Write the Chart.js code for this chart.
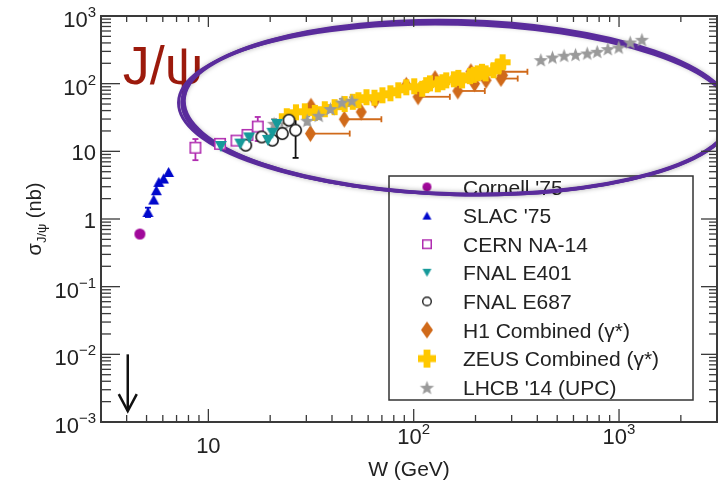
<!DOCTYPE html>
<html>
<head>
<meta charset="utf-8">
<script src="https://cdn.jsdelivr.net/npm/chart.js@4.4.1/dist/chart.umd.min.js"></script>
<style>
html, body { margin: 0; padding: 0; background: #fff; overflow: hidden; }
canvas { display: block; }
</style>
</head>
<body>
<canvas id="c" width="724" height="493"></canvas>
<script>
// ---- data (W in GeV, sigma in nb) ----
const cornellW = [4.64];
const cornellS = [0.60];

const slacW = [5.08, 5.42, 5.58, 5.74, 6.05, 6.40];
const slacS = [1.27, 1.94, 2.66, 3.53, 3.96, 4.96];
const slacErr = [0.2, 0, 0, 0, 0, 0];

const cernW = [8.65, 11.4, 13.7, 15.5, 17.4];
const cernS = [11.3, 12.9, 14.4, 17.5, 23.2];
const cernErr = [3.9, 1.5, 2, 3, 9];

const e401W = [11.5, 14.3, 15.8, 19.5, 20.5, 21.6];
const e401S = [11.8, 12.8, 15.8, 14.5, 18.5, 25];

const e687W = [15.2, 18.2, 20.5, 22.9, 24.7, 26.6];
const e687S = [12.3, 16.3, 14.6, 18.3, 28.8, 20.5];
const e687Err = [1.5, 2, 1.5, 2.5, 4, 12.5];

const h1W = [31.4, 31.6, 45.9, 55.5, 64.9, 92, 105, 127, 164, 190, 198, 225, 266, 271];
const h1S = [18.3, 46.4, 29.8, 38.2, 56.9, 94.7, 64, 119, 78, 150, 100, 112, 119, 133];
const h1WHigh = [48.8, null, 69.6, null, null, null, 150, null, 222, 358, null, null, 321, null];

const zeusW = [24.1, 26.7, 29.5, 33.0, 36.9, 41.2, 46.1, 50.5, 53.8, 58.9, 64.4, 70.4, 77.0, 84.1, 92.0,
               100.6, 110, 115, 120, 131, 138, 144, 157, 165, 172, 188, 196, 205, 215, 224, 245, 258, 271];
const zeusS = [33.0, 37.8, 39.1, 37.0, 41.9, 45, 50, 54, 56.9, 63.0, 62.0, 67.4, 72.1, 79.9, 88.5,
               91.5, 84, 95, 101, 98, 105, 112, 116, 122, 112, 129, 135, 142, 150, 142, 158, 180, 207];

const lhcbW = [20.9, 22.8, 30.3, 34.5, 39.3, 44.7, 50.0, 416, 474, 540, 614, 700, 783, 882, 997, 1134, 1292];
const lhcbS = [26.0, 21.9, 28.8, 34.1, 42.9, 53.7, 56.9, 227, 248, 263, 272, 284, 301, 330, 348, 413, 453];
const lhcbErr = [4, 4, 4, 4, 5, 6, 6, 0, 0, 0, 0, 0, 0, 0, 0, 0, 0];

// axis ranges and tick labels
const xRange = [3, 3000];
const yRange = [1e-3, 1e3];
const xTickLabels = [[10, '10', ''], [100, '10', '2'], [1000, '10', '3']];
const yTickLabels = [[1000, '10', '3'], [100, '10', '2'], [10, '10', ''], [1, '1', ''],
                     [0.1, '10', '\u22121'], [0.01, '10', '\u22122'], [0.001, '10', '\u22123']];

// annotations (data coordinates)
const arrowW = 4.05, arrowTop = 0.01, arrowBottom = 0.00145;
const titleW = 3.83, titleS = 100;
const loopW = 164, loopS = 43.3, loopDecX = 1.341, loopDecY = 1.27;

const FONT = '"Liberation Sans", Arial, Helvetica, sans-serif';

function makeMarker(kind, w, h, fill, stroke, lw) {
  const pad = 2;
  const c = document.createElement('canvas');
  c.width = w + pad * 2; c.height = h + pad * 2;
  const g = c.getContext('2d');
  g.translate(pad, pad);
  const cx = w / 2, cy = h / 2;
  g.beginPath();
  if (kind === 'circle') {
    g.arc(cx, cy, w / 2 - (stroke ? lw / 2 : 0), 0, Math.PI * 2);
  } else if (kind === 'triUp') {
    g.moveTo(cx, 0); g.lineTo(w, h); g.lineTo(0, h); g.closePath();
  } else if (kind === 'triDown') {
    g.moveTo(0, 0); g.lineTo(w, 0); g.lineTo(cx, h); g.closePath();
  } else if (kind === 'square') {
    g.rect(lw / 2, lw / 2, w - lw, h - lw);
  } else if (kind === 'diamond') {
    g.moveTo(cx, 0); g.lineTo(w, cy); g.lineTo(cx, h); g.lineTo(0, cy); g.closePath();
  } else if (kind === 'plus') {
    const t = w * 0.19;
    g.moveTo(cx - t, 0); g.lineTo(cx + t, 0); g.lineTo(cx + t, cy - t); g.lineTo(w, cy - t);
    g.lineTo(w, cy + t); g.lineTo(cx + t, cy + t); g.lineTo(cx + t, h); g.lineTo(cx - t, h);
    g.lineTo(cx - t, cy + t); g.lineTo(0, cy + t); g.lineTo(0, cy - t); g.lineTo(cx - t, cy - t);
    g.closePath();
  } else if (kind === 'star') {
    const R = w / 2, r = R * 0.42;
    for (let i = 0; i < 10; i++) {
      const a = -Math.PI / 2 + i * Math.PI / 5;
      const rr = i % 2 ? r : R;
      const px = cx + rr * Math.cos(a), py = cy + 1 + rr * Math.sin(a);
      if (i === 0) g.moveTo(px, py); else g.lineTo(px, py);
    }
    g.closePath();
  }
  if (fill) { g.fillStyle = fill; g.fill(); }
  if (stroke) { g.strokeStyle = stroke; g.lineWidth = lw; g.stroke(); }
  return c;
}

function pts(ws, ss) { return ws.map((w, i) => ({ x: w, y: ss[i] })); }

const series = [
  { label: "Cornell '75", w: cornellW, s: cornellS, color: '#a0089a',
    mk: ['circle', 11, 11, '#a0089a', null, 0], lg: ['circle', 9, 9, '#a0089a', null, 0], order: 0 },
  { label: "SLAC '75", w: slacW, s: slacS, err: slacErr, color: '#0008cc',
    mk: ['triUp', 11, 10, '#0008cc', null, 0], lg: ['triUp', 9, 8, '#0008cc', null, 0], order: 0 },
  { label: 'CERN NA-14', w: cernW, s: cernS, err: cernErr, color: '#b02cb0',
    mk: ['square', 12, 12, '#fff', '#b02cb0', 1.6], lg: ['square', 10, 10, '#fff', '#b02cb0', 1.5], order: 2 },
  { label: 'FNAL E401', w: e401W, s: e401S, color: '#169a9a',
    mk: ['triDown', 12, 11, '#169a9a', null, 0], lg: ['triDown', 9, 8, '#169a9a', null, 0], order: 1 },
  { label: 'FNAL E687', w: e687W, s: e687S, err: e687Err, color: '#111',
    mk: ['circle', 13, 13, '#fff', '#111', 1.6], lg: ['circle', 10, 10, '#fff', '#222', 1.4], order: 1 },
  { label: 'H1 Combined (\u03b3*)', w: h1W, s: h1S, xHigh: h1WHigh, color: '#d06a1a',
    mk: ['diamond', 11, 17, '#d06a1a', null, 0], lg: ['diamond', 12, 17, '#d06a1a', null, 0], order: 5 },
  { label: 'ZEUS Combined (\u03b3*)', w: zeusW, s: zeusS, color: '#ffc800',
    mk: ['plus', 16, 16, '#ffc800', null, 0], lg: ['plus', 18, 18, '#ffc800', null, 0], order: 4 },
  { label: "LHCB '14 (UPC)", w: lhcbW, s: lhcbS, err: lhcbErr, color: '#9a9a9a',
    mk: ['star', 15, 15, '#9a9a9a', null, 0], lg: ['star', 15, 15, '#9a9a9a', null, 0], order: 1 },
];
series.forEach(sr => { sr.img = makeMarker(...sr.mk); sr.lgImg = makeMarker(...sr.lg); });

const datasets = series.map(sr => ({
  label: sr.label,
  data: pts(sr.w, sr.s),
  pointStyle: sr.img,
  pointRadius: 6,
  showLine: false,
  order: sr.order,
  errY: sr.err || null,
  errXHigh: sr.xHigh || null,
  errColor: sr.color,
}));

function line(ctx, x1, y1, x2, y2) { ctx.beginPath(); ctx.moveTo(x1, y1); ctx.lineTo(x2, y2); ctx.stroke(); }

function powerLabel(ctx, base, exp, x, y, align) {
  const big = '22px ' + FONT, small = '15px ' + FONT;
  ctx.font = big; const bw = ctx.measureText(base).width;
  ctx.font = small; const ew = exp ? ctx.measureText(exp).width : 0;
  const left = align === 'right' ? x - bw - ew : x - (bw + ew) / 2;
  ctx.font = big; ctx.fillText(base, left, y);
  if (exp) { ctx.font = small; ctx.fillText(exp, left + bw, y - 10); }
}

const decor = {
  id: 'decor',
  beforeDatasetsDraw(chart) {
    const { ctx, scales: { x, y } } = chart;
    ctx.save();
    // J/psi title
    ctx.fillStyle = '#9c1a0c';
    ctx.font = '54px ' + FONT;
    ctx.textAlign = 'left'; ctx.textBaseline = 'alphabetic';
    ctx.fillText('J/\u03c8', x.getPixelForValue(titleW), y.getPixelForValue(titleS));

    // legend box
    ctx.strokeStyle = '#333'; ctx.lineWidth = 1.5;
    ctx.fillStyle = '#fff';
    ctx.fillRect(389, 176, 304, 224);
    ctx.strokeRect(389, 176, 304, 224);
    ctx.font = '21px ' + FONT; ctx.fillStyle = '#222';
    series.forEach((sr, i) => {
      const ry = 187 + i * 28.6;
      ctx.drawImage(sr.lgImg, 427 - sr.lgImg.width / 2, ry - sr.lgImg.height / 2);
      ctx.fillText(sr.label, 463, ry + 7.5);
    });

    // hand-drawn loop
    const cx = x.getPixelForValue(loopW), cy = y.getPixelForValue(loopS);
    const rx = x.getPixelForValue(loopW * Math.pow(10, loopDecX)) - cx;
    const ry = cy - y.getPixelForValue(loopS * Math.pow(10, loopDecY));
    const strokes = [[0, 0, 0, 0, 4, 5], [-2, 1, 2, -1, 3, 0], [1, -1, -1, 1, 2.5, 0], [-1, 1, 0, 0, 2, 0]];
    ctx.strokeStyle = '#5a2c9c';
    strokes.forEach(([dx, dy, drx, dry, lw, blur]) => {
      ctx.shadowColor = 'rgba(0,0,0,0.35)'; ctx.shadowBlur = blur;
      ctx.lineWidth = lw;
      ctx.beginPath();
      ctx.ellipse(cx + dx, cy + dy, rx + drx, ry + dry, 0.025, 0, Math.PI * 2);
      ctx.stroke();
    });
    ctx.shadowBlur = 0;

    // error bars
    chart.data.datasets.forEach(ds => {
      ctx.strokeStyle = ds.errColor; ctx.lineWidth = 1.8;
      ds.data.forEach((p, i) => {
        const px = x.getPixelForValue(p.x), py = y.getPixelForValue(p.y);
        if (ds.errY && ds.errY[i]) {
          const e = ds.errY[i];
          const t = y.getPixelForValue(p.y + e), b = y.getPixelForValue(Math.max(p.y - e, 1e-3));
          line(ctx, px, t, px, b);
          line(ctx, px - 3, t, px + 3, t);
          line(ctx, px - 3, b, px + 3, b);
        }
        if (ds.errXHigh && ds.errXHigh[i]) {
          const r = x.getPixelForValue(ds.errXHigh[i]);
          line(ctx, px, py, r, py);
          line(ctx, r, py - 3, r, py + 3);
        }
      });
    });
    ctx.restore();
  },
  afterDraw(chart) {
    const { ctx, chartArea: a, scales: { x, y } } = chart;
    ctx.save();
    ctx.strokeStyle = '#3a3a3a'; ctx.lineWidth = 2;
    ctx.strokeRect(a.left, a.top, a.right - a.left, a.bottom - a.top);
    ctx.lineWidth = 1.3;
    for (let d = 1; d <= 1000; d *= 10) {
      for (let m = 1; m <= 9; m++) {
        const v = d * m;
        if (v < xRange[0] || v > xRange[1]) continue;
        const px = x.getPixelForValue(v), major = m === 1;
        line(ctx, px, a.bottom, px, a.bottom - (major ? 13 : 7));
        line(ctx, px, a.top, px, a.top + (major ? 11 : 6));
      }
    }
    for (let d = 1e-3; d <= 1000; d *= 10) {
      for (let m = 1; m <= 9; m++) {
        const v = d * m;
        if (v > yRange[1] * 1.001) continue;
        const py = y.getPixelForValue(v), major = m === 1;
        line(ctx, a.left, py, a.left + (major ? 19 : 10), py);
        line(ctx, a.right, py, a.right - (major ? 16 : 8), py);
      }
    }
    // tick labels
    ctx.fillStyle = '#222'; ctx.textAlign = 'left'; ctx.textBaseline = 'alphabetic';
    xTickLabels.forEach(([v, b, e]) => powerLabel(ctx, b, e, x.getPixelForValue(v), e ? 444 : 453, 'center'));
    yTickLabels.forEach(([v, b, e]) => powerLabel(ctx, b, e, 96, y.getPixelForValue(v) + (e ? 11 : 9), 'right'));

    // y axis title with subscript
    ctx.translate(35, 219); ctx.rotate(-Math.PI / 2);
    const f1 = '20px ' + FONT, f2 = '13px ' + FONT;
    ctx.font = f1; const w1 = ctx.measureText('\u03c3').width, w3 = ctx.measureText(' (nb)').width;
    ctx.font = f2; const w2 = ctx.measureText('J/\u03c8').width;
    let sx = -(w1 + w2 + w3) / 2;
    ctx.font = f1; ctx.fillText('\u03c3', sx, 6); sx += w1;
    ctx.font = f2; ctx.fillText('J/\u03c8', sx, 11); sx += w2;
    ctx.font = f1; ctx.fillText(' (nb)', sx, 6);
    ctx.setTransform(1, 0, 0, 1, 0, 0);

    // upper-limit arrow
    const ax = x.getPixelForValue(arrowW), a1 = y.getPixelForValue(arrowTop), a2 = y.getPixelForValue(arrowBottom);
    ctx.strokeStyle = '#111'; ctx.lineWidth = 2.5;
    line(ctx, ax, a1, ax, a2);
    ctx.beginPath(); ctx.moveTo(ax - 9, a2 - 17); ctx.lineTo(ax, a2); ctx.lineTo(ax + 9, a2 - 17); ctx.stroke();
    ctx.restore();
  }
};

new Chart(document.getElementById('c'), {
  type: 'scatter',
  data: { datasets },
  options: {
    responsive: false,
    animation: false,
    layout: { padding: { left: 0, right: 3.5, top: 16, bottom: 0 } },
    plugins: { legend: { display: false }, tooltip: { enabled: false } },
    scales: {
      x: {
        type: 'logarithmic', min: xRange[0], max: xRange[1],
        grid: { display: false }, border: { display: false },
        ticks: { display: false },
        title: { display: true, text: 'W (GeV)', color: '#222', font: { family: FONT, size: 21 }, padding: { top: 0, bottom: 10 } },
        afterFit: s => { s.height = 71; },
      },
      y: {
        type: 'logarithmic', min: yRange[0], max: yRange[1],
        grid: { display: false }, border: { display: false },
        ticks: { display: false },
        afterFit: s => { s.width = 101; },
      },
    },
  },
  plugins: [decor],
});
</script>
</body>
</html>
